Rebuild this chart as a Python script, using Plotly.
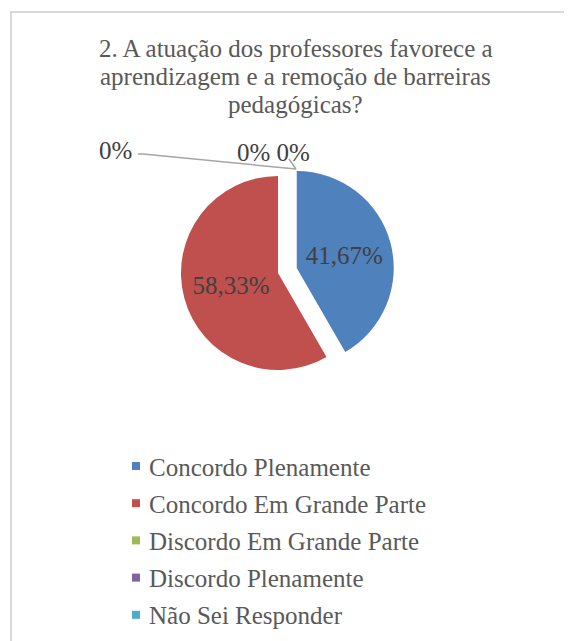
import plotly.graph_objects as go

title_lines = ["2. A atuação dos professores favorece a",
               "aprendizagem e a remoção de barreiras",
               "pedagógicas?"]
categories = ["Concordo Plenamente", "Concordo Em Grande Parte", "Discordo Em Grande Parte",
              "Discordo Plenamente", "Não Sei Responder"]
values = [5, 7, 0, 0, 0]
colors = ["#4F81BD", "#C0504D", "#9BBB59", "#8064A2", "#4BACC6"]
pulls = [0.2, 0, 0, 0, 0]

total = sum(values)
slice_text = [("%.2f%%" % (100 * v / total)).replace(".", ",") if v > 0 else "" for v in values]
zero_labels = ["%d%%" % round(100 * v / total) for v in values if v == 0]

# page body has an 8px margin; axes map directly onto screen pixels of the 572x641 window
OFF = 8
WIN_W, WIN_H = 572, 641
W, H = WIN_W - OFF, WIN_H - OFF
FONT = "Liberation Serif"
LABEL_C = "#404040"
TEXT_C = "#595959"

# pie placement (screen px): centre and radius
CX, CY, R = 278, 273, 97
half = R * (1 + max(pulls))
dx = [(CX - OFF - half) / W, (CX - OFF + half) / W]
dy = [(H - (CY - OFF) - half) / H, (H - (CY - OFF) + half) / H]

fig = go.Figure()
fig.add_trace(go.Pie(
    labels=categories, values=values, sort=False, direction="clockwise", rotation=0,
    marker=dict(colors=colors, line=dict(width=0)),
    pull=pulls, text=slice_text, textinfo="text", textposition="inside",
    insidetextorientation="horizontal",
    textfont=dict(family=FONT, size=25, color=LABEL_C),
    domain=dict(x=dx, y=dy),
    hoverinfo="label+percent", showlegend=False,
))

# leader lines for 0% labels
fig.add_shape(type="path", path="M 138 154 L 143 154 L 296 169", xref="x", yref="y",
              line=dict(color="#A6A6A6", width=1.5))
fig.add_shape(type="line", x0=289, y0=159, x1=296, y1=169, xref="x", yref="y",
              line=dict(color="#A6A6A6", width=1.5))

fig.add_annotation(x=115.5, y=150, text=zero_labels[0], showarrow=False, xref="x", yref="y",
                   font=dict(family=FONT, size=25, color=LABEL_C))
fig.add_annotation(x=273.5, y=152.5, text=zero_labels[1] + " " + zero_labels[2], showarrow=False,
                   xref="x", yref="y", font=dict(family=FONT, size=25, color=LABEL_C))

# title
for i, line in enumerate(title_lines):
    fig.add_annotation(x=295.5, y=48 + 28 * i, text=line, showarrow=False, xref="x", yref="y",
                       font=dict(family=FONT, size=25, color=TEXT_C))

# legend
leg_y0, leg_dy = 466, 37.2
for i, (cat, col) in enumerate(zip(categories, colors)):
    yy = leg_y0 + leg_dy * i
    fig.add_shape(type="rect", x0=132, x1=140, y0=yy - 4, y1=yy + 4, xref="x", yref="y",
                  fillcolor=col, line=dict(width=0))
    fig.add_annotation(x=147, y=yy + 1, text=cat, showarrow=False, xref="x", yref="y",
                       xanchor="left", font=dict(family=FONT, size=25, color=TEXT_C))

# chart border
fig.add_shape(type="rect", x0=11, y0=12, x1=620, y1=700, xref="x", yref="y",
              line=dict(color="#D9D9D9", width=2), layer="below")

fig.update_layout(
    width=W, height=H, margin=dict(l=0, r=0, t=0, b=0),
    paper_bgcolor="white", plot_bgcolor="rgba(0,0,0,0)",
    xaxis=dict(range=[OFF, WIN_W], visible=False, fixedrange=True),
    yaxis=dict(range=[WIN_H, OFF], visible=False, fixedrange=True),
    showlegend=False,
)

fig.write_html("out.html")
